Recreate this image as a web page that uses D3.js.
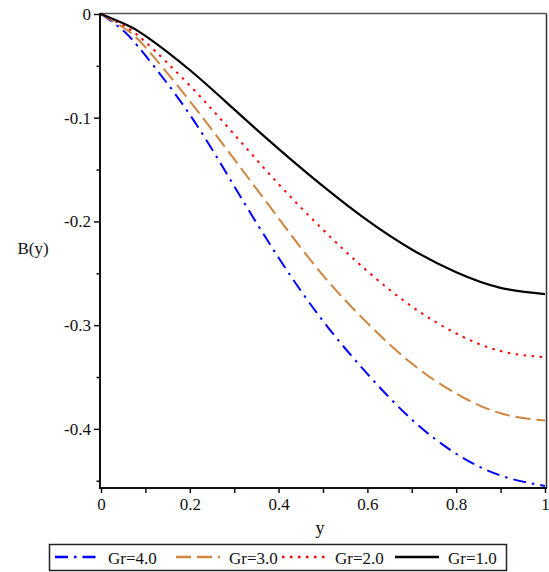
<!DOCTYPE html>
<html>
<head>
<meta charset="utf-8">
<script src="https://cdn.jsdelivr.net/npm/d3@7"></script>
<style>
  html, body { margin: 0; padding: 0; background: #fff; }
  svg { display: block; }
  text { font-family: "Liberation Serif", "Times New Roman", serif; fill: #111; }
</style>
</head>
<body>
<svg id="chart" width="549" height="572"></svg>
<script>
// Sample positions along the channel
const yPos = [0, 0.05, 0.1, 0.2, 0.3, 0.4, 0.5, 0.6, 0.7, 0.8, 0.9, 1.0];

// Induced magnetic field B(y) for each Grashof number
const bGr4 = [0, -0.016, -0.040, -0.097, -0.166, -0.235, -0.296, -0.347, -0.391, -0.424, -0.445, -0.455];
const bGr3 = [0, -0.013, -0.032, -0.084, -0.140, -0.197, -0.252, -0.298, -0.337, -0.366, -0.385, -0.392];
const bGr2 = [0, -0.011, -0.027, -0.069, -0.116, -0.164, -0.208, -0.248, -0.282, -0.308, -0.325, -0.331];
const bGr1 = [0, -0.009, -0.021, -0.054, -0.092, -0.130, -0.166, -0.199, -0.227, -0.249, -0.264, -0.270];

const seriesNames = ["Gr=4.0", "Gr=3.0", "Gr=2.0", "Gr=1.0"];
const xTickValues = [0, 0.2, 0.4, 0.6, 0.8, 1];
const yTickValues = [0, -0.1, -0.2, -0.3, -0.4];

const series = [
  { name: seriesNames[0], values: bGr4, color: "#0000ff", dash: "13,6,2.5,6" },
  { name: seriesNames[1], values: bGr3, color: "#cd853f", dash: "15,6" },
  { name: seriesNames[2], values: bGr2, color: "#ff0000", dash: "2.5,5.5" },
  { name: seriesNames[3], values: bGr1, color: "#000000", dash: null }
];

const svg = d3.select("#chart");

const x = d3.scaleLinear().domain([0, 1]).range([101, 545]);
const y = d3.scaleLinear().domain([0, -0.457]).range([14, 488]);

// frame: light top/right, heavier left/bottom axes
svg.append("line").attr("x1", 100).attr("x2", 546.5).attr("y1", 13.5).attr("y2", 13.5)
  .attr("stroke", "#555").attr("stroke-width", 1.5);
svg.append("line").attr("x1", 546.5).attr("x2", 546.5).attr("y1", 13.5).attr("y2", 488)
  .attr("stroke", "#333").attr("stroke-width", 1.5);

// curves
const line = d3.line()
  .x((d, i) => x(yPos[i]))
  .y(d => y(d))
  .curve(d3.curveNatural);

const plot = svg.append("g");
series.forEach(s => {
  plot.append("path")
    .attr("d", line(s.values))
    .attr("fill", "none")
    .attr("stroke", s.color)
    .attr("stroke-width", s.dash ? 2 : 2.2)
    .attr("stroke-dasharray", s.dash);
});

// y axis
const yAxis = d3.axisLeft(y)
  .tickValues(yTickValues)
  .tickSize(6)
  .tickPadding(3)
  .tickFormat(d => d === 0 ? "0" : "-" + d3.format(".1f")(-d));
const gy = svg.append("g").attr("transform", "translate(100,0)").call(yAxis);
gy.select(".domain").remove();
gy.selectAll(".tick line").attr("stroke", "#111").attr("stroke-width", 1.5);
gy.selectAll(".tick text").attr("font-size", 17).attr("font-family", "Liberation Serif, serif").attr("fill", "#111");

// y minor ticks
const yMinor = d3.axisLeft(y).tickValues(d3.range(-0.05, -0.46, -0.1)).tickSize(3.5).tickFormat("");
const gym = svg.append("g").attr("transform", "translate(100,0)").call(yMinor);
gym.select(".domain").remove();
gym.selectAll(".tick line").attr("stroke", "#111").attr("stroke-width", 1.5);

svg.append("line").attr("x1", 100).attr("x2", 100).attr("y1", 13).attr("y2", 489)
  .attr("stroke", "#111").attr("stroke-width", 2);

// x axis
const xAxis = d3.axisBottom(x)
  .tickValues(xTickValues)
  .tickSize(5)
  .tickPadding(5)
  .tickFormat(d => d === 0 ? "0" : d === 1 ? "1" : d3.format(".1f")(d));
const gx = svg.append("g").attr("transform", "translate(0,488)").call(xAxis);
gx.select(".domain").remove();
gx.selectAll(".tick line").attr("stroke", "#111").attr("stroke-width", 1.5);
gx.selectAll(".tick text").attr("font-size", 17).attr("font-family", "Liberation Serif, serif").attr("fill", "#111");

const xMinor = d3.axisBottom(x).tickValues([0.1, 0.3, 0.5, 0.7, 0.9]).tickSize(5).tickFormat("");
const gxm = svg.append("g").attr("transform", "translate(0,488)").call(xMinor);
gxm.select(".domain").remove();
gxm.selectAll(".tick line").attr("stroke", "#111").attr("stroke-width", 1.5);

svg.append("line").attr("x1", 99).attr("x2", 547).attr("y1", 488).attr("y2", 488)
  .attr("stroke", "#111").attr("stroke-width", 2);

// axis titles
svg.append("text").attr("x", 320).attr("y", 534).attr("text-anchor", "middle")
  .attr("font-size", 18).text("y");
svg.append("text").attr("x", 33).attr("y", 254).attr("text-anchor", "middle")
  .attr("font-size", 17).text("B(y)");

// legend
const legend = svg.append("g");
legend.append("rect").attr("x", 49.5).attr("y", 544.5).attr("width", 457).attr("height", 26)
  .attr("fill", "#fff").attr("stroke", "#222").attr("stroke-width", 1.5);
const legendX = [55, 176, 282, 395];
series.forEach((s, i) => {
  const lx = legendX[i];
  legend.append("line")
    .attr("x1", lx).attr("x2", lx + 44).attr("y1", 557).attr("y2", 557)
    .attr("stroke", s.color).attr("stroke-width", 2.5)
    .attr("stroke-dasharray", s.dash);
  legend.append("text").attr("x", lx + 53).attr("y", 564)
    .attr("font-size", 17).text(s.name);
});
</script>
</body>
</html>
